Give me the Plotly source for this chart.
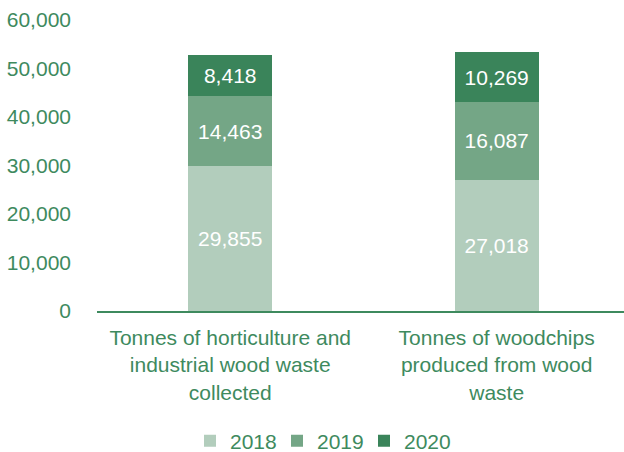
import plotly.graph_objects as go

categories = ["Tonnes of horticulture and<br>industrial wood waste<br>collected",
              "Tonnes of woodchips<br>produced from wood<br>waste"]
years = ["2018", "2019", "2020"]
values_2018 = [29855, 27018]
values_2019 = [14463, 16087]
values_2020 = [8418, 10269]
y_ticks = [0, 10000, 20000, 30000, 40000, 50000, 60000]

colors = {"2018": "#b2cdbc", "2019": "#74a686", "2020": "#3a845a"}
text_green = "#3e8a5e"
series = {"2018": values_2018, "2019": values_2019, "2020": values_2020}
FONT = "Liberation Sans, Arial, sans-serif"
FS = 21

fig = go.Figure()
for yr in years:
    vals = series[yr]
    fig.add_trace(go.Bar(
        x=categories, y=vals, name=yr,
        marker=dict(color=colors[yr], line=dict(width=0)),
        text=[f"{v:,}" for v in vals], textposition="inside",
        insidetextanchor="middle", textangle=0,
        textfont=dict(color="white", size=FS, family=FONT),
        width=0.315,
    ))

fig.update_layout(
    barmode="stack",
    width=624, height=452,
    margin=dict(l=97, r=0, t=20, b=141),
    paper_bgcolor="white", plot_bgcolor="white",
    font=dict(family=FONT, size=FS, color=text_green),
    legend=dict(orientation="h", xref="container", x=320.5 / 624, xanchor="center",
                yref="container", y=1 - 441 / 452, yanchor="middle",
                font=dict(size=FS, color=text_green), traceorder="normal",
                itemwidth=30, entrywidth=42, entrywidthmode="pixels",
                bgcolor="rgba(0,0,0,0)"),
    xaxis=dict(range=[-0.5, 1.478], showline=True, linecolor=text_green, linewidth=1.5,
               ticks="", showgrid=False, ticklabelstandoff=7,
               tickfont=dict(size=FS, color=text_green)),
    yaxis=dict(range=[0, 60000], tickvals=y_ticks, tickformat=",", showgrid=False,
               zeroline=False, showline=False, ticks="", ticklabelstandoff=25,
               tickfont=dict(size=FS, color=text_green)),
)

fig.write_html("out.html")
